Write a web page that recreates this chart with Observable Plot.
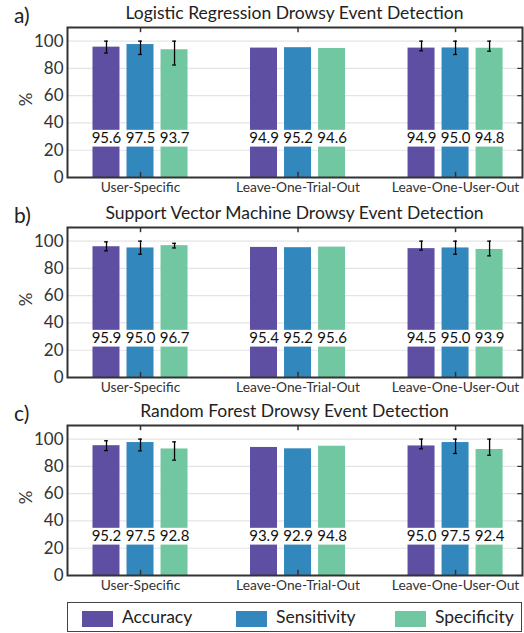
<!DOCTYPE html>
<html>
<head>
<meta charset="utf-8">
<script src="https://cdn.jsdelivr.net/npm/d3@7"></script>
<script src="https://cdn.jsdelivr.net/npm/@observablehq/plot@0.6"></script>
<style>
  body { margin: 0; background: #fff; font-family: Lato, "Open Sans", sans-serif; }
  #root { position: relative; width: 524px; height: 633px; overflow: hidden; }
  .panel { position: absolute; left: 0; }
  .title { position: absolute; left: 67px; width: 455px; text-align: center; font-size: 17.5px; color: #222; line-height: 20px; white-space: nowrap; }
  .tag { position: absolute; left: 14px; font-size: 21px; color: #222; line-height: 22px; }
  .legend { position: absolute; left: 67px; top: 602px; width: 455px; height: 30px; border: 1.5px solid #444; box-sizing: border-box; }
  .sw { position: absolute; width: 31px; height: 16px; top: 8px; }
  .lt { position: absolute; top: 3px; font-size: 17.5px; color: #222; line-height: 22px; }
</style>
</head>
<body>
<div id="root"></div>
<script>
const groups = ["User-Specific", "Leave-One-Trial-Out", "Leave-One-User-Out"];
const metrics = ["Accuracy", "Sensitivity", "Specificity"];
const colors = ["#5e4fa2", "#3288bd", "#72c7a3"];
const yTicks = [0, 20, 40, 60, 80, 100];

const panelTags = ["a)", "b)", "c)"];
const panelTitles = [
  "Logistic Regression Drowsy Event Detection",
  "Support Vector Machine Drowsy Event Detection",
  "Random Forest Drowsy Event Detection"
];

// values: group-major, metric-minor
const valuesLR  = [95.6, 97.5, 93.7, 94.9, 95.2, 94.6, 94.9, 95.0, 94.8];
const valuesSVM = [95.9, 95.0, 96.7, 95.4, 95.2, 95.6, 94.5, 95.0, 93.9];
const valuesRF  = [95.2, 97.5, 92.8, 93.9, 92.9, 94.8, 95.0, 97.5, 92.4];

// error bar extents (null = no error bar)
const errLoLR  = [91.3, 90.2, 82.5, null, null, null, 92.9, 90.2, 92.6];
const errHiLR  = [100, 100, 100, null, null, null, 100, 100, 100];
const errLoSVM = [92.9, 90.4, 95.0, null, null, null, 93.4, 90.4, 89.2];
const errHiSVM = [99.5, 100, 98.4, null, null, null, 100, 100, 100];
const errLoRF  = [91.6, 91.4, 84.6, null, null, null, 92.9, 89.5, 88.2];
const errHiRF  = [98.8, 100, 98.0, null, null, null, 100, 100, 100];

const panels = [
  {values: valuesLR, lo: errLoLR, hi: errHiLR},
  {values: valuesSVM, lo: errLoSVM, hi: errHiSVM},
  {values: valuesRF, lo: errLoRF, hi: errHiRF}
];
const panelTops = [25, 225, 423];

// layout constants
const xMin = 0.5365, xMax = 3.425;
const offset = 0.216, half = 0.0857, cap = 0.012;
const gapLo = 22.3, gapHi = 34.6, labelY = 28.6;

const root = document.getElementById("root");

panels.forEach((p, pi) => {
  const rows = [];
  groups.forEach((g, gi) => metrics.forEach((m, mi) => {
    const k = gi * metrics.length + mi;
    rows.push({g, m, gi, mi, v: p.values[k], lo: p.lo[k], hi: p.hi[k],
               xc: gi + 1 + (mi - 1) * offset});
  }));
  const errRows = rows.filter(d => d.lo != null);

  const chart = Plot.plot({
    width: 524, height: 176,
    marginLeft: 67, marginRight: 2, marginTop: 2, marginBottom: 24,
    style: {fontFamily: "Lato, 'Open Sans', sans-serif", fontSize: "16px", color: "#333", background: "#fff"},
    x: {domain: [xMin, xMax], axis: null},
    y: {domain: [0, 110], axis: null},
    color: {domain: metrics, range: colors},
    marks: [
      Plot.ruleY(yTicks.filter(t => t > 0), {stroke: "#e4e4e4", strokeWidth: 1.2}),
      Plot.rectY(rows, {x1: d => d.xc - half, x2: d => d.xc + half, y1: 0, y2: gapLo, fill: "m"}),
      Plot.rectY(rows, {x1: d => d.xc - half, x2: d => d.xc + half, y1: gapHi, y2: "v", fill: "m"}),
      Plot.text(rows, {x: "xc", y: labelY, text: d => d.v.toFixed(1), fontSize: 15, fill: "#111"}),
      Plot.ruleX(errRows, {x: "xc", y1: "lo", y2: "hi", stroke: "#000", strokeWidth: 1.3}),
      Plot.ruleY(errRows, {y: "lo", x1: d => d.xc - cap, x2: d => d.xc + cap, stroke: "#000", strokeWidth: 1.3}),
      Plot.ruleY(errRows, {y: "hi", x1: d => d.xc - cap, x2: d => d.xc + cap, stroke: "#000", strokeWidth: 1.3}),
      // inward ticks
      Plot.ruleX(groups.map((g, i) => i + 1), {x: d => d, y1: 0, y2: 3.8, stroke: "#333", strokeWidth: 1.5}),
      Plot.ruleX(groups.map((g, i) => i + 1), {x: d => d, y1: 106.2, y2: 110, stroke: "#333", strokeWidth: 1.5}),
      Plot.ruleY(yTicks, {y: d => d, x1: xMax - 0.03, x2: xMax, stroke: "#333", strokeWidth: 1.2}),
      Plot.frame({stroke: "#333", strokeWidth: 2}),
      Plot.axisY({ticks: yTicks, tickSize: 0, tickPadding: 4, label: null, fontSize: 17, fill: "#333"}),
      Plot.axisX({ticks: [1, 2, 3], tickFormat: i => groups[i - 1], tickSize: 0, tickPadding: 5, label: null, fontSize: 13.8, fill: "#333"})
    ]
  });
  const wrap = document.createElement("div");
  wrap.className = "panel";
  wrap.style.top = panelTops[pi] + "px";
  wrap.appendChild(chart);
  root.appendChild(wrap);

  const t = document.createElement("div");
  t.className = "title";
  t.style.top = (panelTops[pi] - 22) + "px";
  t.textContent = panelTitles[pi];
  root.appendChild(t);

  const tag = document.createElement("div");
  tag.className = "tag";
  tag.style.top = (panelTops[pi] - 21) + "px";
  tag.textContent = panelTags[pi];
  root.appendChild(tag);

  const pct = document.createElement("div");
  pct.style.cssText = "position:absolute;left:19px;font-size:17px;color:#333;line-height:17px;transform:rotate(-90deg);transform-origin:center;";
  pct.style.top = (panelTops[pi] + 66) + "px";
  pct.textContent = "%";
  root.appendChild(pct);
});

// legend
const leg = document.createElement("div");
leg.className = "legend";
const swX = [14, 168, 327];
metrics.forEach((m, i) => {
  const s = document.createElement("div");
  s.className = "sw";
  s.style.left = swX[i] + "px";
  s.style.background = colors[i];
  leg.appendChild(s);
  const l = document.createElement("div");
  l.className = "lt";
  l.style.left = (swX[i] + 40) + "px";
  l.textContent = m;
  leg.appendChild(l);
});
root.appendChild(leg);
</script>
</body>
</html>
